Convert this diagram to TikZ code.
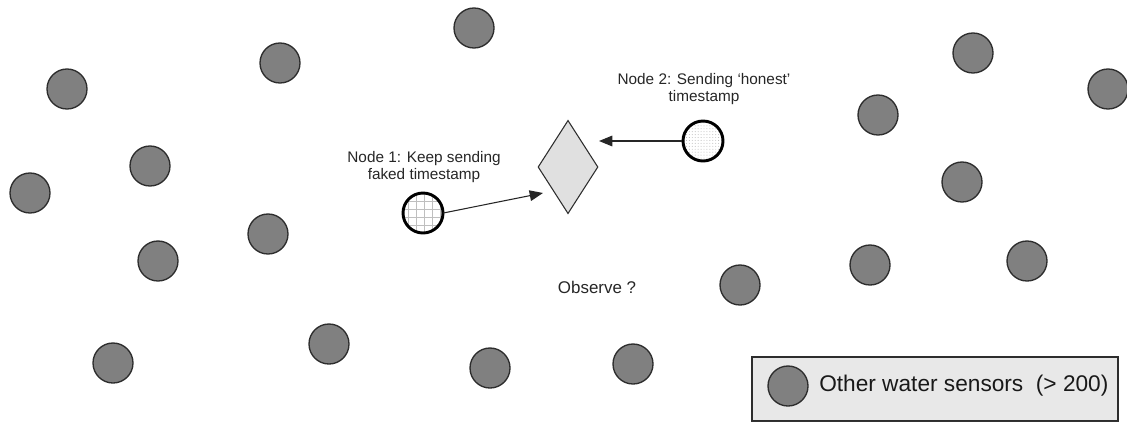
\documentclass[tikz,border=0pt]{standalone}
\usepackage{fontspec}
\setmainfont{Liberation Sans}
\usetikzlibrary{shapes.geometric,arrows.meta,patterns.meta}
\definecolor{sensorfill}{RGB}{128,128,128}
\definecolor{sensorline}{RGB}{45,45,45}
\definecolor{diafill}{RGB}{224,224,224}
\definecolor{legfill}{RGB}{232,232,232}
\tikzset{
  sensor/.style={circle,draw=sensorline,fill=sensorfill,line width=1pt,minimum size=30pt,inner sep=0pt},
  special/.style={circle,draw=black,line width=2.2pt,minimum size=30pt,inner sep=0pt},
  lbl/.style={font=\fontsize{11.5}{13.3}\selectfont,align=center,inner sep=0pt,text=black!85},
  arr/.style={draw=black!85,line width=0.8pt,-{Triangle[length=10pt,width=8pt]}},
}
\begin{document}
\begin{tikzpicture}[x=0.75pt,y=-0.75pt]
\useasboundingbox (0,0) rectangle (1127,425);
% other sensors
\node[sensor] (s1) at (67,89) {};
\node[sensor] (s2) at (280,63) {};
\node[sensor] (s3) at (474,28) {};
\node[sensor] (s4) at (30,193) {};
\node[sensor] (s5) at (150,166) {};
\node[sensor] (s6) at (158,261) {};
\node[sensor] (s7) at (268,234) {};
\node[sensor] (s8) at (113,363) {};
\node[sensor] (s9) at (329,344) {};
\node[sensor] (s10) at (490,368) {};
\node[sensor] (s11) at (633,364) {};
\node[sensor] (s12) at (740,285) {};
\node[sensor] (s13) at (878,115) {};
\node[sensor] (s14) at (973,53) {};
\node[sensor] (s15) at (1108,89) {};
\node[sensor] (s16) at (962,182) {};
\node[sensor] (s17) at (870,265) {};
\node[sensor] (s18) at (1027,261) {};
% diamond
\node[diamond,draw=sensorline,fill=diafill,line width=0.8pt,minimum width=45pt,minimum height=70pt,inner sep=0pt] (d) at (568,167) {};
% special nodes
\node[special,pattern={Hatch[distance=6pt,angle=0,line width=0.5pt]},pattern color=black!25] (n1) at (423,213) {};
\node[special,draw=none,fill=white] (n2bg) at (703,141) {};
\node[special,pattern={Dots[distance=2.2pt,radius=0.35pt]},pattern color=black!30] (n2) at (703,141) {};
% labels
\node[lbl] (l1) at (424,167) {Node 1: Keep sending\\faked timestamp};
\node[lbl] (l2) at (704,89) {Node 2: Sending ‘honest’\\timestamp};
\node[lbl,font=\fontsize{12.7}{15}\selectfont] (obs) at (597,287) {Observe ?};
% arrows
\coordinate (t1) at (543,193);
\coordinate (t2) at (599,141);
\draw[arr] (n1.east) -- (t1);
\draw[arr] (n2.west) -- (t2);
% legend
\node[draw=sensorline,fill=legfill,line width=0.8pt,minimum width=274.5pt,minimum height=48pt,inner sep=0pt] (leg) at (935,389) {};
\draw[black!80,line width=1.2pt] (leg.south west) -- (leg.south east);
\node[sensor] (legs) at (788,386) {};
\node[font=\fontsize{17}{20}\selectfont,anchor=west,inner sep=0pt,text=black!90] (legt) at (819,386) {Other water sensors\ \ (> 200)};
\end{tikzpicture}
\end{document}
